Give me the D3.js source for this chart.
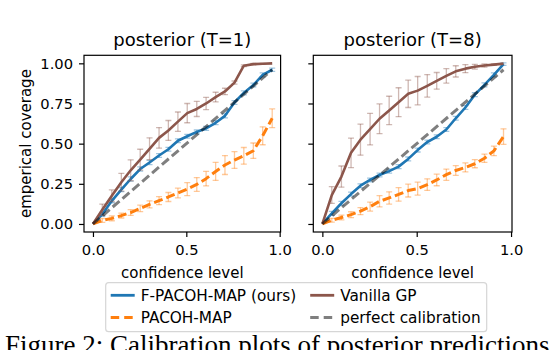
<!DOCTYPE html>
<html>
<head>
<meta charset="utf-8">
<script src="https://cdn.jsdelivr.net/npm/d3@7"></script>
<style>
  html, body { margin: 0; padding: 0; background: #fff; }
  svg { display: block; }
  text { fill: #000; }
</style>
</head>
<body>
<svg id="chart" width="550" height="350"></svg>
<script>
// ---------------- data ----------------
const confidence = [0, 0.05, 0.101, 0.152, 0.202, 0.253, 0.303, 0.354, 0.404, 0.455,
                    0.505, 0.556, 0.606, 0.657, 0.707, 0.758, 0.808, 0.859, 0.909, 0.96];

// posterior (T=1)
const fpacohT1    = [0, 0.06, 0.144, 0.214, 0.28, 0.342, 0.383, 0.426, 0.465, 0.518,
                     0.546, 0.573, 0.595, 0.63, 0.673, 0.756, 0.816, 0.865, 0.928, 0.96];
const fpacohT1Err = [0, 0.012, 0.012, 0.013, 0.013, 0.013, 0.013, 0.012, 0.012, 0.012,
                     0.012, 0.012, 0.012, 0.012, 0.012, 0.012, 0.012, 0.012, 0.012, 0.01];
const pacohT1     = [0, 0.022, 0.035, 0.052, 0.071, 0.097, 0.122, 0.145, 0.168, 0.193,
                     0.217, 0.246, 0.282, 0.327, 0.367, 0.398, 0.424, 0.456, 0.549, 0.658];
const pacohT1Err  = [0, 0.012, 0.015, 0.015, 0.018, 0.02, 0.022, 0.025, 0.028, 0.03,
                     0.04, 0.043, 0.045, 0.056, 0.059, 0.052, 0.052, 0.048, 0.056, 0.058];
const gpT1        = [0, 0.089, 0.176, 0.26, 0.334, 0.4, 0.468, 0.536, 0.582, 0.637,
                     0.69, 0.716, 0.75, 0.79, 0.825, 0.88, 0.985, 0.995, 0.997, 1.0];
const gpT1Err     = [0, 0.035, 0.036, 0.055, 0.065, 0.065, 0.068, 0.064, 0.062, 0.06,
                     0.06, 0.047, 0.038, 0.03, 0.02, 0.01, 0.005, 0.004, 0.003, 0];

// posterior (T=8)
const fpacohT8    = [0, 0.066, 0.129, 0.186, 0.238, 0.274, 0.305, 0.329, 0.357, 0.405,
                     0.46, 0.51, 0.543, 0.588, 0.658, 0.725, 0.805, 0.866, 0.928, 0.995];
const fpacohT8Err = [0, 0.012, 0.012, 0.012, 0.012, 0.012, 0.012, 0.012, 0.012, 0.012,
                     0.012, 0.012, 0.012, 0.012, 0.012, 0.012, 0.012, 0.012, 0.012, 0.008];
const pacohT8     = [0, 0.023, 0.04, 0.058, 0.08, 0.108, 0.141, 0.162, 0.184, 0.208,
                     0.22, 0.245, 0.274, 0.307, 0.333, 0.352, 0.375, 0.409, 0.455, 0.544];
const pacohT8Err  = [0, 0.012, 0.015, 0.018, 0.022, 0.028, 0.035, 0.038, 0.042, 0.04,
                     0.04, 0.036, 0.036, 0.035, 0.03, 0.028, 0.025, 0.026, 0.03, 0.048];
const gpT8        = [0, 0.18, 0.295, 0.443, 0.525, 0.59, 0.655, 0.707, 0.758, 0.81,
                     0.83, 0.86, 0.891, 0.922, 0.95, 0.967, 0.979, 0.986, 0.992, 0.998];
const gpT8Err     = [0, 0.052, 0.066, 0.092, 0.097, 0.098, 0.092, 0.088, 0.09, 0.085,
                     0.088, 0.07, 0.052, 0.045, 0.035, 0.025, 0.015, 0.01, 0.005, 0];

const perfect = [0, 0.96];

const panelTitles = ["posterior (T=1)", "posterior (T=8)"];
const xTicks = [0, 0.5, 1.0];
const yTicks = [0, 0.25, 0.5, 0.75, 1.0];
const seriesNames = ["F-PACOH-MAP (ours)", "PACOH-MAP", "Vanilla GP", "perfect calibration"];
const caption = "Figure 2: Calibration plots of posterior predictions";

// ---------------- styles ----------------
const SANS = "'DejaVu Sans', sans-serif";
const C_BLUE = "#1f77b4", C_ORANGE = "#ff7f0e", C_BROWN = "#8c564b";
const svg = d3.select("#chart");
svg.append("rect").attr("width", 550).attr("height", 350).attr("fill", "#fff");

const yScale = d3.scaleLinear().domain([-0.05, 1.05]).range([232, 55.3]);
const panels = [
  { xr: [84, 280.6], title: panelTitles[0], showY: true,
    blue: fpacohT1, blueE: fpacohT1Err, orange: pacohT1, orangeE: pacohT1Err, brown: gpT1, brownE: gpT1Err },
  { xr: [313.3, 512], title: panelTitles[1], showY: false,
    blue: fpacohT8, blueE: fpacohT8Err, orange: pacohT8, orangeE: pacohT8Err, brown: gpT8, brownE: gpT8Err }
];

function drawSeries(g, x, vals, errs, color, dashed, width) {
  const eg = g.append("g").attr("stroke", color).attr("stroke-opacity", 0.42).attr("stroke-width", 1.3);
  confidence.forEach((c, i) => {
    const e = errs[i];
    if (e <= 0) return;
    const cx = x(c), y1 = yScale(vals[i] - e), y2 = yScale(vals[i] + e);
    eg.append("line").attr("x1", cx).attr("x2", cx).attr("y1", y1).attr("y2", y2);
    eg.append("line").attr("x1", cx - 3).attr("x2", cx + 3).attr("y1", y1).attr("y2", y1);
    eg.append("line").attr("x1", cx - 3).attr("x2", cx + 3).attr("y1", y2).attr("y2", y2);
  });
  const line = d3.line().x((d, i) => x(confidence[i])).y(d => yScale(d));
  g.append("path").datum(vals).attr("d", line).attr("fill", "none")
    .attr("stroke", color).attr("stroke-width", width)
    .attr("stroke-linejoin", "round")
    .attr("stroke-dasharray", dashed ? "9,4" : null);
}

panels.forEach(p => {
  const x = d3.scaleLinear().domain([-0.048, 1.005]).range(p.xr);
  const g = svg.append("g");

  const clipId = "clip" + Math.round(p.xr[0]);
  g.append("clipPath").attr("id", clipId).append("rect")
    .attr("x", p.xr[0]).attr("y", 55.3).attr("width", p.xr[1] - p.xr[0]).attr("height", 232 - 55.3);
  const plot = g.append("g").attr("clip-path", `url(#${clipId})`);

  drawSeries(plot, x, p.blue, p.blueE, C_BLUE, false, 2.6);
  drawSeries(plot, x, p.orange, p.orangeE, C_ORANGE, true, 3);
  drawSeries(plot, x, p.brown, p.brownE, C_BROWN, false, 2.6);
  plot.append("path").datum(perfect)
    .attr("d", d3.line().x(d => x(d)).y(d => yScale(d)))
    .attr("fill", "none").attr("stroke", "#000").attr("stroke-opacity", 0.5)
    .attr("stroke-width", 3).attr("stroke-dasharray", "9,4");

  const xAxis = d3.axisBottom(x).tickValues(xTicks).tickFormat(d3.format(".1f"))
    .tickSize(5).tickPadding(8).tickSizeOuter(0);
  const gx = g.append("g").attr("transform", "translate(0,232)").call(xAxis);
  const yAxis = d3.axisLeft(yScale).tickValues(yTicks).tickFormat(p.showY ? d3.format(".2f") : () => "")
    .tickSize(5).tickPadding(6).tickSizeOuter(0);
  const gy = g.append("g").attr("transform", `translate(${p.xr[0]},0)`).call(yAxis);
  [gx, gy].forEach(a => {
    a.select(".domain").remove();
    a.selectAll(".tick line").attr("stroke", "#000").attr("stroke-width", 1.2);
    a.selectAll(".tick text").style("font-family", SANS).attr("font-size", 14.7).attr("fill", "#000");
  });

  g.append("rect").attr("x", p.xr[0]).attr("y", 55.3)
    .attr("width", p.xr[1] - p.xr[0]).attr("height", 232 - 55.3)
    .attr("fill", "none").attr("stroke", "#000").attr("stroke-width", 1.2);

  const cx = (p.xr[0] + p.xr[1]) / 2;
  g.append("text").attr("x", cx).attr("y", 46.3).attr("text-anchor", "middle")
    .style("font-family", SANS).attr("font-size", 18).text(p.title);
  g.append("text").attr("x", cx).attr("y", 278).attr("text-anchor", "middle")
    .style("font-family", SANS).attr("font-size", 15).text("confidence level");
});

svg.append("text").attr("transform", "translate(31,143.6) rotate(-90)")
  .attr("text-anchor", "middle").style("font-family", SANS).attr("font-size", 15).text("emperical coverage");

// legend
const lg = svg.append("g");
lg.append("rect").attr("x", 105.7).attr("y", 282.7).attr("width", 381).attr("height", 49)
  .attr("rx", 3).attr("fill", "#fff").attr("stroke", "#d6d6d6").attr("stroke-width", 1.2);
const legendItems = [
  { name: seriesNames[0], color: C_BLUE, op: 1, dash: null, hx: 110.7, ty: 300.7, ly: 295.3 },
  { name: seriesNames[1], color: C_ORANGE, op: 1, dash: "8.5,5", hx: 110.7, ty: 323.3, ly: 317.5 },
  { name: seriesNames[2], color: C_BROWN, op: 1, dash: null, hx: 310.2, ty: 300.7, ly: 295.3 },
  { name: seriesNames[3], color: "#000", op: 0.5, dash: "8.5,5", hx: 310.2, ty: 323.3, ly: 317.5 }
];
legendItems.forEach(it => {
  lg.append("line").attr("x1", it.hx).attr("x2", it.hx + 24).attr("y1", it.ly).attr("y2", it.ly)
    .attr("stroke", it.color).attr("stroke-opacity", it.op).attr("stroke-width", 2.8)
    .attr("stroke-dasharray", it.dash);
  lg.append("text").attr("x", it.hx + 30).attr("y", it.ty)
    .style("font-family", SANS).attr("font-size", 15.3).text(it.name);
});

// caption of the surrounding page (cut off by the page edge, as in the reference)
svg.append("text").attr("x", 5).attr("y", 354)
  .style("font-family", "'Liberation Serif', 'DejaVu Serif', serif").attr("font-size", 27).text(caption);
</script>
</body>
</html>
